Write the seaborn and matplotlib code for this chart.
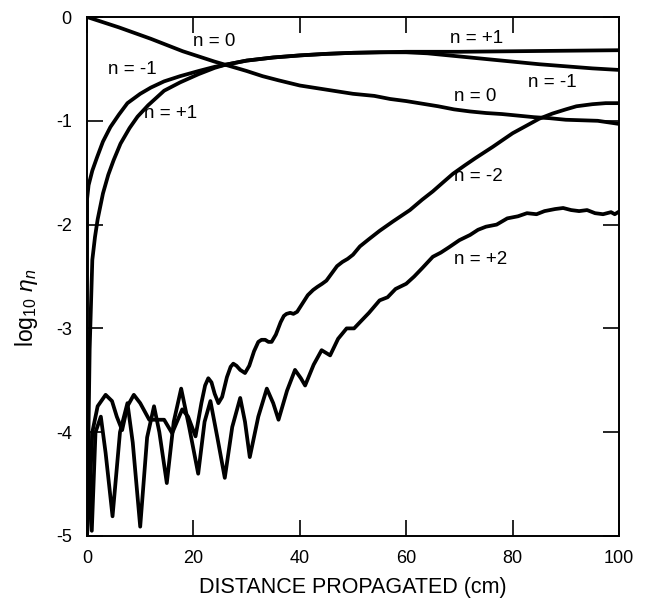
import matplotlib
matplotlib.use("Agg")
import matplotlib.pyplot as plt
import seaborn as sns
import pandas as pd

# ---- data ----
x_n0 = [0, 3, 6, 9, 12, 15, 18, 21, 24, 26, 30, 33, 36, 40, 45, 50, 54, 57, 60, 63,
        66, 69, 72, 75, 78, 81, 84, 87, 90, 93, 96, 98, 100]
y_n0 = [0, -0.05, -0.10, -0.155, -0.21, -0.27, -0.33, -0.38, -0.43, -0.46, -0.52, -0.57,
        -0.61, -0.66, -0.70, -0.74, -0.76, -0.79, -0.81, -0.835, -0.86, -0.89, -0.91,
        -0.925, -0.935, -0.95, -0.965, -0.975, -0.99, -0.995, -1.0, -1.015, -1.03]

x_np1 = [0, 0.5, 1.0, 1.5, 2.0, 3.0, 4.0, 5.0, 6.3, 8.0, 9.5, 11.5, 14.5, 17.5, 21, 24,
         26, 30, 35, 40, 45, 50, 55, 60, 70, 80, 90, 100]
y_np1 = [-5.0, -3.2, -2.34, -2.12, -1.95, -1.70, -1.52, -1.38, -1.22, -1.07, -0.96,
         -0.85, -0.71, -0.63, -0.55, -0.49, -0.46, -0.42, -0.39, -0.37, -0.355, -0.345,
         -0.34, -0.335, -0.335, -0.33, -0.325, -0.32]

x_nm1 = [0, 0.02, 0.3, 1.0, 1.9, 3.0, 4.4, 6.0, 7.6, 10, 12, 14.5, 17.5, 21, 24, 26, 30,
         35, 40, 45, 50, 55, 60, 64, 68, 72, 76, 80, 85, 90, 95, 100]
y_nm1 = [-5.0, -1.75, -1.62, -1.48, -1.35, -1.20, -1.06, -0.94, -0.83, -0.74, -0.68,
         -0.62, -0.57, -0.52, -0.48, -0.46, -0.42, -0.39, -0.37, -0.355, -0.345, -0.34,
         -0.34, -0.35, -0.37, -0.39, -0.41, -0.43, -0.455, -0.475, -0.495, -0.51]

x_nm2 = [0, 0.5, 1.0, 2.0, 3.5, 4.7, 5.6, 6.6, 7.6, 8.8, 10.0, 11.7, 13.0, 14.5, 16.0,
         17.9, 19.0, 20.4, 21.5, 22.2, 22.8, 23.4, 24.0, 24.7, 25.4, 26.3, 27.0, 27.5,
         28.1, 28.8, 29.7, 30.5, 31.4, 32.2, 32.8, 33.5, 34.1, 34.7, 35.5, 36.4, 37.0,
         37.5, 38.2, 38.8, 39.5, 40.5, 41.5, 42.5, 43.3, 44.2, 45.0, 46.0, 47.0, 48.0,
         49.0, 50.0, 51.3, 53, 55, 57.5, 60.7, 63, 65, 67, 68.8, 71, 73, 76.3, 78, 80,
         82.5, 85, 87.5, 90, 92, 95, 97.5, 100]
y_nm2 = [-5.0, -4.6, -4.0, -3.75, -3.64, -3.70, -3.85, -3.98, -3.75, -3.64, -3.72,
         -3.88, -3.88, -3.88, -4.01, -3.78, -3.85, -4.04, -3.72, -3.55, -3.48, -3.52,
         -3.63, -3.72, -3.66, -3.47, -3.37, -3.34, -3.36, -3.40, -3.43, -3.36, -3.22,
         -3.13, -3.11, -3.11, -3.13, -3.13, -3.06, -2.94, -2.88, -2.86, -2.85, -2.86,
         -2.84, -2.76, -2.68, -2.63, -2.60, -2.57, -2.54, -2.47, -2.40, -2.36, -2.33,
         -2.29, -2.21, -2.14, -2.06, -1.97, -1.86, -1.76, -1.68, -1.59, -1.51, -1.43,
         -1.36, -1.25, -1.19, -1.12, -1.05, -0.98, -0.93, -0.89, -0.86, -0.84, -0.83,
         -0.83]

x_np2 = [0, 0.3, 0.9, 1.6, 2.6, 3.5, 4.8, 6.2, 7.6, 8.6, 10.0, 11.3, 12.6, 13.6, 15.0,
         16.3, 17.7, 19.2, 20.9, 22.1, 23.2, 24.5, 25.9, 27.3, 28.8, 29.7, 30.6, 32.2,
         33.8, 35.0, 36.0, 37.6, 39.1, 40.2, 41.0, 42.6, 44.1, 45.7, 47.2, 48.8, 50.2,
         51.5, 53, 55, 56.5, 58, 60, 61.5, 63, 65, 66.5, 68, 70, 72, 73.5, 75, 77, 79,
         81, 82.7, 84.5, 86, 88, 89.5, 91, 92.5, 94, 95.5, 97, 98.5, 99.2, 100]
y_np2 = [-5.0, -4.0, -4.95, -4.0, -3.85, -4.2, -4.81, -4.0, -3.72, -4.1, -4.91, -4.05,
         -3.75, -4.0, -4.49, -3.9, -3.58, -3.95, -4.40, -3.9, -3.70, -4.05, -4.44, -3.95,
         -3.67, -3.9, -4.24, -3.85, -3.58, -3.72, -3.88, -3.6, -3.40, -3.48, -3.55, -3.35,
         -3.21, -3.26, -3.1, -3.0, -3.0, -2.93, -2.85, -2.73, -2.70, -2.62, -2.57, -2.50,
         -2.42, -2.31, -2.27, -2.22, -2.15, -2.10, -2.05, -2.02, -2.0, -1.94, -1.92,
         -1.89, -1.90, -1.87, -1.85, -1.84, -1.86, -1.87, -1.86, -1.89, -1.90, -1.88,
         -1.90, -1.875]

label_text = ["n = 0", "n = -1", "n = +1", "n = +1", "n = -1", "n = 0", "n = -2", "n = +2"]
label_x = [24.0, 8.5, 15.8, 73.3, 87.4, 72.9, 73.5, 74.0]
label_y = [-0.24, -0.51, -0.93, -0.21, -0.63, -0.77, -1.54, -2.34]

x_ticks = [0, 20, 40, 60, 80, 100]
y_ticks = [0, -1, -2, -3, -4, -5]

# ---- build table ----
series = {"n=0": (x_n0, y_n0), "n=+1": (x_np1, y_np1), "n=-1": (x_nm1, y_nm1),
          "n=-2": (x_nm2, y_nm2), "n=+2": (x_np2, y_np2)}
frames = []
for name, (xs, ys) in series.items():
    frames.append(pd.DataFrame({"x": xs, "y": ys, "order": name}))
df = pd.concat(frames, ignore_index=True)

sns.set_style("ticks")
plt.rcParams["font.family"] = ["Liberation Sans", "DejaVu Sans"]
plt.rcParams["axes.unicode_minus"] = False
plt.rcParams["mathtext.fontset"] = "custom"
plt.rcParams["mathtext.rm"] = "Liberation Sans"
plt.rcParams["mathtext.it"] = "Liberation Sans:italic"
plt.rcParams["text.color"] = "black"
plt.rcParams["axes.labelcolor"] = "black"
plt.rcParams["xtick.color"] = "black"
plt.rcParams["ytick.color"] = "black"

fig = plt.figure(figsize=(6.48, 6.05), dpi=100)
ax = fig.add_axes([87 / 648, 1 - 536 / 605, (619 - 87) / 648, (536 - 17) / 605])

for name in series:
    sub = df[df["order"] == name]
    sns.lineplot(data=sub, x="x", y="y", ax=ax, color="black", lw=2.7, sort=False,
                 estimator=None, solid_joinstyle="round", solid_capstyle="round")

for t, lx, ly in zip(label_text, label_x, label_y):
    ax.text(lx, ly, t, fontsize=13.5, ha="center", va="center", color="black")

ax.set_xlim(0, 100)
ax.set_ylim(-5, 0)
ax.set_xticks(x_ticks)
ax.set_yticks(y_ticks)
ax.set_xticklabels([str(v) for v in x_ticks])
ax.set_yticklabels([str(v) for v in y_ticks])
ax.tick_params(direction="in", top=True, right=True, length=11.5, width=1.2,
               labelsize=13, colors="black")
ax.tick_params(axis="x", pad=10)
ax.tick_params(axis="y", pad=11)
for s in ax.spines.values():
    s.set_linewidth(1.4)
    s.set_color("black")

ax.set_xlabel("DISTANCE PROPAGATED (cm)", fontsize=15.5, labelpad=7)
ax.set_ylabel(r"log$_{10}$ $\eta_n$", fontsize=16.5)
ax.yaxis.set_label_coords(-0.088, 0.44)

fig.savefig("out.png", dpi=100)
